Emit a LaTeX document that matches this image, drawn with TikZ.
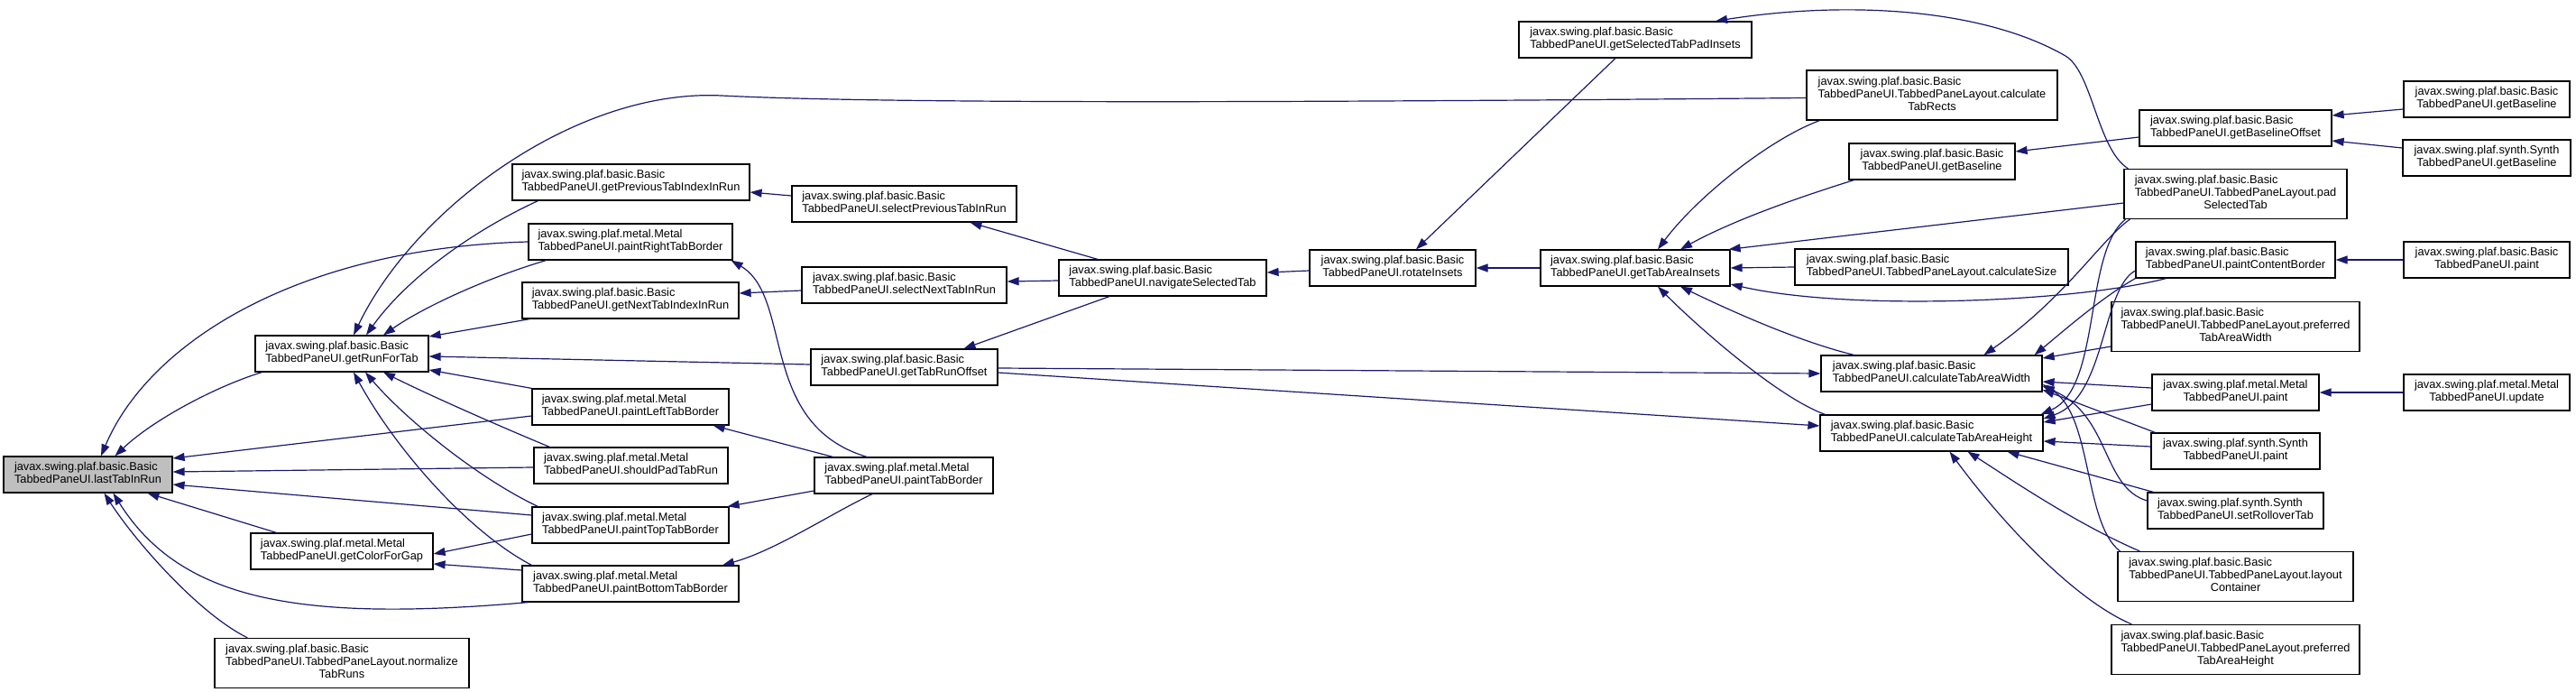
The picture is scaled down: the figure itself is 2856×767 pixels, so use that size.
\documentclass[tikz,border=0pt]{standalone}
\usepackage{fontspec}
\setmainfont{Liberation Sans}
\usetikzlibrary{arrows.meta,calc}
\definecolor{edgeblue}{RGB}{25,25,112}
\definecolor{rootgray}{RGB}{191,191,191}
\newcommand{\twol}[2]{\begin{tabular}{@{}l@{}}#1\\\multicolumn{1}{@{}c@{}}{#2}\end{tabular}}
\newcommand{\threel}[3]{\begin{tabular}{@{}l@{}}#1\\#2\\\multicolumn{1}{@{}c@{}}{#3}\end{tabular}}
\newcommand{\pkgb}{javax.swing.plaf.basic.Basic}
\newcommand{\pkgm}{javax.swing.plaf.metal.Metal}
\newcommand{\pkgs}{javax.swing.plaf.synth.Synth}
\begin{document}
\begin{tikzpicture}[x=1pt,y=-1pt,
  nd/.style={draw=black,line width=1.2pt,fill=white,rectangle,inner sep=0pt,
    font=\fontsize{12.8}{14}\selectfont},
  two/.style={nd,minimum height=40pt},
  three/.style={nd,minimum height=55pt},
  calledge/.style={draw=edgeblue,line width=1.2pt,-{Triangle[length=13pt,width=9pt]}}]
\useasboundingbox (0,0) rectangle (2856,767);
% ---------- nodes ----------
\node[two,fill=rootgray,minimum width=187pt] (L) at (97.5,526) {\twol{\pkgb}{TabbedPaneUI.lastTabInRun}};
\node[two,minimum width=192pt] (RFT) at (379,392) {\twol{\pkgb}{TabbedPaneUI.getRunForTab}};
\node[two,minimum width=202pt] (GCG) at (379,611) {\twol{\pkgm}{TabbedPaneUI.getColorForGap}};
\node[three,minimum width=282pt] (NTR) at (379,735) {\threel{\pkgb}{TabbedPaneUI.TabbedPaneLayout.normalize}{TabRuns}};
\node[two,minimum width=263pt] (GPI) at (699.5,202) {\twol{\pkgb}{TabbedPaneUI.getPreviousTabIndexInRun}};
\node[two,minimum width=226pt] (PRT) at (699,268) {\twol{\pkgm}{TabbedPaneUI.paintRightTabBorder}};
\node[two,minimum width=240pt] (GNI) at (699,333) {\twol{\pkgb}{TabbedPaneUI.getNextTabIndexInRun}};
\node[two,minimum width=218pt] (PLT) at (699,451) {\twol{\pkgm}{TabbedPaneUI.paintLeftTabBorder}};
\node[two,minimum width=215pt] (SPR) at (699.5,516) {\twol{\pkgm}{TabbedPaneUI.shouldPadTabRun}};
\node[two,minimum width=218pt] (PTT) at (699,582) {\twol{\pkgm}{TabbedPaneUI.paintTopTabBorder}};
\node[two,minimum width=240pt] (PBT) at (699,647) {\twol{\pkgm}{TabbedPaneUI.paintBottomTabBorder}};
\node[two,minimum width=249pt] (SPT) at (1002.5,226) {\twol{\pkgb}{TabbedPaneUI.selectPreviousTabInRun}};
\node[two,minimum width=227pt] (SNT) at (1002.5,316) {\twol{\pkgb}{TabbedPaneUI.selectNextTabInRun}};
\node[two,minimum width=207pt] (GTRO) at (1002.5,407) {\twol{\pkgb}{TabbedPaneUI.getTabRunOffset}};
\node[two,minimum width=198pt] (PTB) at (1002,527) {\twol{\pkgm}{TabbedPaneUI.paintTabBorder}};
\node[two,minimum width=230pt] (NAV) at (1289,308) {\twol{\pkgb}{TabbedPaneUI.navigateSelectedTab}};
\node[two,minimum width=184pt] (ROT) at (1544,297) {\twol{\pkgb}{TabbedPaneUI.rotateInsets}};
\node[two,minimum width=258pt] (GSTP) at (1813,44) {\twol{\pkgb}{TabbedPaneUI.getSelectedTabPadInsets}};
\node[two,minimum width=210pt] (GTAI) at (1813,297) {\twol{\pkgb}{TabbedPaneUI.getTabAreaInsets}};
\node[three,minimum width=278pt] (CTR) at (2142,105.5) {\threel{\pkgb}{TabbedPaneUI.TabbedPaneLayout.calculate}{TabRects}};
\node[two,minimum width=184pt] (GBm) at (2142,179) {\twol{\pkgb}{TabbedPaneUI.getBaseline}};
\node[two,minimum width=303pt] (CSZ) at (2141.5,296) {\twol{\pkgb}{TabbedPaneUI.TabbedPaneLayout.calculateSize}};
\node[two,minimum width=245pt] (CTAW) at (2141.5,414) {\twol{\pkgb}{TabbedPaneUI.calculateTabAreaWidth}};
\node[two,minimum width=247pt] (CTAH) at (2141.5,480) {\twol{\pkgb}{TabbedPaneUI.calculateTabAreaHeight}};
\node[two,minimum width=213pt] (GBO) at (2478.5,142) {\twol{\pkgb}{TabbedPaneUI.getBaselineOffset}};
\node[three,minimum width=247pt] (PST) at (2478.5,215) {\threel{\pkgb}{TabbedPaneUI.TabbedPaneLayout.pad}{SelectedTab}};
\node[two,minimum width=221pt] (PCB) at (2478.5,288) {\twol{\pkgb}{TabbedPaneUI.paintContentBorder}};
\node[three,minimum width=275pt] (PTAW) at (2478.5,362) {\threel{\pkgb}{TabbedPaneUI.TabbedPaneLayout.preferred}{TabAreaWidth}};
\node[two,minimum width=185pt] (MP) at (2478.5,435) {\twol{\pkgm}{TabbedPaneUI.paint}};
\node[two,minimum width=187pt] (SP) at (2478.5,500) {\twol{\pkgs}{TabbedPaneUI.paint}};
\node[two,minimum width=195pt] (SRT) at (2478.5,566) {\twol{\pkgs}{TabbedPaneUI.setRolloverTab}};
\node[three,minimum width=261pt] (LC) at (2478.5,639) {\threel{\pkgb}{TabbedPaneUI.TabbedPaneLayout.layout}{Container}};
\node[three,minimum width=275pt] (PTAH) at (2478.5,720) {\threel{\pkgb}{TabbedPaneUI.TabbedPaneLayout.preferred}{TabAreaHeight}};
\node[two,minimum width=184pt] (GBB) at (2757,110) {\twol{\pkgb}{TabbedPaneUI.getBaseline}};
\node[two,minimum width=186pt] (GBS) at (2757,175) {\twol{\pkgs}{TabbedPaneUI.getBaseline}};
\node[two,minimum width=184pt] (BP) at (2757,288) {\twol{\pkgb}{TabbedPaneUI.paint}};
\node[two,minimum width=184pt] (MU) at (2757,435) {\twol{\pkgm}{TabbedPaneUI.update}};
% ---------- edges into lastTabInRun ----------
\draw[calledge] ($(RFT.south west)+(8,0)$) .. controls (240,428) and (170,465) .. ($(L.north)+(30,0)$);
\draw[calledge] (PRT.west) .. controls (330,275) and (165,380) .. ($(L.north)+(14.5,0)$);
\draw[calledge] ($(PLT.west)+(0,10)$) -- ($(L.east)+(0,-18)$);
\draw[calledge] ($(SPR.west)+(0,2)$) -- ($(L.east)+(0,-3)$);
\draw[calledge] ($(PTT.west)+(0,-11)$) -- ($(L.east)+(0,11)$);
\draw[calledge] ($(GCG.north west)+(29,0)$) -- ($(L.south)+(66,0)$);
\draw[calledge] ($(NTR.north west)+(37,0)$) .. controls (220,680) and (150,600) .. ($(L.south)+(18,0)$);
\draw[calledge] ($(PBT.south west)+(7,0)$) .. controls (330,690) and (200,665) .. ($(L.south)+(28,0)$);
% ---------- edges into getRunForTab ----------
\draw[calledge] ($(CTR.west)+(0,3)$) .. controls (1500,113) and (1000,116) .. (800,106) .. controls (640,98) and (460,230) .. ($(RFT.north)+(13,0)$);
\draw[calledge] ($(GPI.south west)+(29,0)$) .. controls (520,258) and (450,310) .. ($(RFT.north)+(27,0)$);
\draw[calledge] ($(PRT.south west)+(20,0)$) .. controls (540,308) and (470,340) .. ($(RFT.north)+(46,0)$);
\draw[calledge] ($(GNI.south west)+(9,0)$) -- ($(RFT.east)+(0,-19)$);
\draw[calledge] ($(GTRO.west)+(0,-3)$) -- ($(RFT.east)+(0,3)$);
\draw[calledge] (PLT.north west) -- ($(RFT.east)+(0,18)$);
\draw[calledge] ($(SPR.north west)+(18,0)$) .. controls (560,475) and (480,440) .. ($(RFT.south)+(46,0)$);
\draw[calledge] ($(PTT.north west)+(7,0)$) .. controls (530,530) and (450,465) .. ($(RFT.south)+(26,0)$);
\draw[calledge] ($(PBT.north west)+(11,0)$) .. controls (520,590) and (440,500) .. ($(RFT.south)+(13,0)$);
% ---------- getColorForGap ----------
\draw[calledge] ($(PTT.west)+(0,10)$) -- ($(GCG.east)+(0,3)$);
\draw[calledge] ($(PBT.west)+(0,-15)$) -- ($(GCG.east)+(0,14)$);
% ---------- column 2 <- column 3 ----------
\draw[calledge] ($(SPT.west)+(0,-9)$) -- ($(GPI.east)+(0,11)$);
\draw[calledge] ($(PTB.north)+(-41,0)$) .. controls (840,470) and (880,330) .. ($(PRT.south east)+(-2,0)$);
\draw[calledge] ($(SNT.west)+(0,6)$) -- ($(GNI.east)+(0,-8)$);
\draw[calledge] ($(PTB.north west)+(21,0)$) -- ($(PLT.south east)+(-18,0)$);
\draw[calledge] ($(PTB.west)+(0,17)$) -- ($(PTT.north east)+(-2,0)$);
\draw[calledge] ($(PTB.south)+(-35,0)$) .. controls (920,570) and (860,610) .. ($(PBT.north)+(102,0)$);
% ---------- navigateSelectedTab ----------
\draw[calledge] ($(NAV.north)+(-72,0)$) -- ($(SPT.south)+(73,0)$);
\draw[calledge] ($(NAV.west)+(0,3)$) -- ($(SNT.east)+(0,-4)$);
\draw[calledge] ($(NAV.south)+(-59,0)$) -- ($(GTRO.north)+(66,0)$);
\draw[calledge] ($(ROT.west)+(0,3)$) -- ($(NAV.east)+(0,-6)$);
% ---------- rotateInsets ----------
\draw[calledge] (GTAI.west) -- (ROT.east);
\draw[calledge] ($(GSTP.south)+(-22,0)$) -- ($(ROT.north)+(26,0)$);
\draw[calledge] ($(PST.north west)+(5,0)$) .. controls (2325,165) and (2320,80) .. (2290,62) .. controls (2200,10) and (2050,0) .. ($(GSTP.north)+(89,0)$);
% ---------- getTabAreaInsets ----------
\draw[calledge] ($(CTR.south west)+(15,0)$) .. controls (1960,155) and (1880,220) .. ($(GTAI.north)+(25,0)$);
\draw[calledge] ($(GBm.south west)+(6,0)$) .. controls (1990,220) and (1920,245) .. ($(GTAI.north)+(50,0)$);
\draw[calledge] ($(PST.west)+(0,10)$) -- ($(GTAI.north east)+(-2,0)$);
\draw[calledge] (CSZ.west) -- (GTAI.east);
\draw[calledge] ($(PCB.south west)+(34,0)$) .. controls (2300,335) and (2050,345) .. ($(GTAI.east)+(0,18)$);
\draw[calledge] ($(CTAW.north west)+(37,0)$) .. controls (2000,380) and (1930,350) .. ($(GTAI.south)+(50,0)$);
\draw[calledge] ($(CTAH.north west)+(6,0)$) .. controls (1970,440) and (1880,360) .. ($(GTAI.south)+(25,0)$);
% ---------- getTabRunOffset -> calc ----------
\draw[calledge] ($(GTRO.east)+(0,1)$) -- (CTAW.west);
\draw[calledge] ($(GTRO.east)+(0,6)$) -- ($(CTAH.west)+(0,-8)$);
% ---------- baseline ----------
\draw[calledge] ($(GBO.west)+(0,10)$) -- ($(GBm.east)+(0,-11)$);
\draw[calledge] ($(GBB.west)+(0,11)$) -- ($(GBO.east)+(0,-14)$);
\draw[calledge] ($(GBS.west)+(0,-11)$) -- ($(GBO.east)+(0,14)$);
\draw[calledge] (BP.west) -- (PCB.east);
\draw[calledge] (MU.west) -- (MP.east);
% ---------- calculateTabAreaWidth ----------
\draw[calledge] ($(PST.south west)+(7,0)$) .. controls (2330,265) and (2290,330) .. ($(CTAW.north)+(58,0)$);
\draw[calledge] (PCB.south west) .. controls (2330,330) and (2290,365) .. ($(CTAW.north east)+(-9,0)$);
\draw[calledge] ($(PTAW.west)+(0,22)$) -- ($(CTAW.east)+(0,-17)$);
\draw[calledge] ($(MP.west)+(0,-5)$) -- ($(CTAW.east)+(0,9)$);
\draw[calledge] ($(SP.north west)+(5,0)$) -- ($(CTAW.east)+(0,18)$);
\draw[calledge] ($(SRT.west)+(0,-11)$) .. controls (2330,540) and (2340,460) .. ($(CTAW.east)+(0,14)$);
\draw[calledge] ($(LC.north west)+(3,0)$) .. controls (2310,580) and (2320,460) .. ($(CTAW.east)+(0,12)$);
% ---------- calculateTabAreaHeight ----------
\draw[calledge] ($(PST.south west)+(2,0)$) .. controls (2310,280) and (2330,430) .. ($(CTAH.north east)+(-3,0)$);
\draw[calledge] ($(PCB.west)+(0,12)$) .. controls (2330,320) and (2335,440) .. ($(CTAH.east)+(0,-16)$);
\draw[calledge] ($(MP.west)+(0,13)$) -- ($(CTAH.east)+(0,-12)$);
\draw[calledge] ($(SP.west)+(0,-5)$) -- ($(CTAH.east)+(0,9)$);
\draw[calledge] ($(SRT.north west)+(7,0)$) -- ($(CTAH.south)+(84,0)$);
\draw[calledge] ($(LC.north west)+(25,0)$) .. controls (2300,580) and (2220,525) .. ($(CTAH.south)+(40,0)$);
\draw[calledge] ($(PTAH.north west)+(23,0)$) .. controls (2300,665) and (2220,580) .. ($(CTAH.south)+(20,0)$);
\end{tikzpicture}
\end{document}
